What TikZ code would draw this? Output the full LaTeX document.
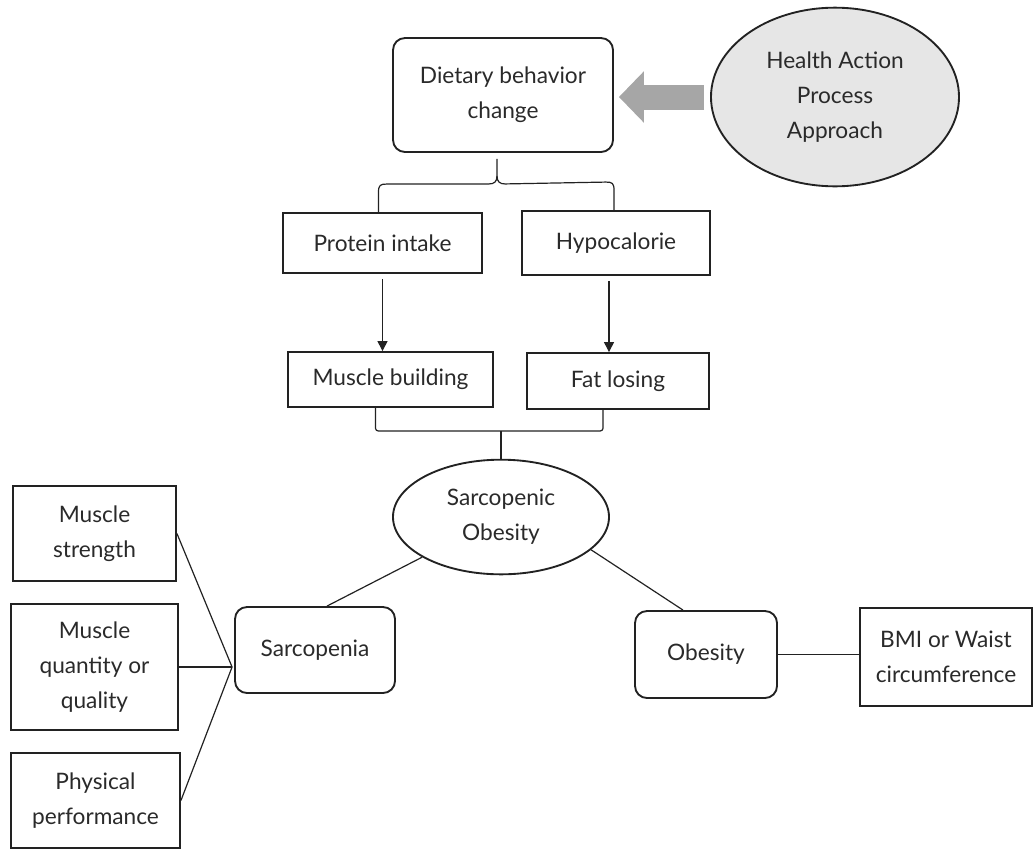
\documentclass[tikz,border=0pt]{standalone}
\usepackage{fontspec}
\setmainfont{Lato}
\usetikzlibrary{shapes.geometric,arrows.meta,calc}
\definecolor{ink}{HTML}{222222}
\definecolor{txt}{HTML}{2A2A2A}
\definecolor{arrowgray}{HTML}{A6A6A6}
\definecolor{hapafill}{HTML}{E6E6E6}
\begin{document}
\begin{tikzpicture}[x=0.75pt,y=-0.75pt,
  every node/.style={font=\fontsize{17}{26.25}\selectfont, text=txt, align=center, inner sep=0pt},
  sqbox/.style={draw=ink, line width=1.4pt, rectangle},
  rbox/.style={draw=ink, line width=1.4pt, rectangle, rounded corners=9pt},
  oval/.style={draw=ink, line width=1.4pt, ellipse},
  link/.style={draw=ink, line width=0.9pt},
  down/.style={link, -{Triangle[width=7.5pt,length=7.5pt]}},
  bigarrow/.style={draw=arrowgray, line width=18.75pt, -{Triangle[width=37.5pt,length=18.75pt]}}
]
\useasboundingbox (0,0) rectangle (1035,850);

% top
\node[rbox, minimum width=165pt, minimum height=85.5pt] (diet) at (503,95) {Dietary behavior\\change};
\node[oval, fill=hapafill, minimum width=186pt, minimum height=134pt] (hapa) at (835,97) {Health Action\\Process\\Approach};
\draw[bigarrow, shorten <=4.5pt, shorten >=3.75pt] (hapa.west) -- (diet.east |- hapa.west);

% second row
\node[sqbox, minimum width=149pt, minimum height=45pt] (prot) at (382.5,243) {Protein intake};
\node[sqbox, minimum width=141pt, minimum height=48pt] (hypo) at (616,243) {Hypocalorie};

% brace
\coordinate (btip) at ($(diet.south)+(-6,6)$);
\draw[link] ($(prot.north)+(-4,0)$) -- ++(0,-20)
  .. controls ++(0,-7) and ++(-6,0) .. ++(8,-8) -- ($(btip)+(-8,25)$)
  .. controls ++(5,0) and ++(0,6) .. ($(btip)+(0,17)$) -- (btip);
\draw[link] ($(hypo.north)+(-2,0)$) -- ++(0,-20)
  .. controls ++(0,-7) and ++(6,0) .. ++(-8,-8) -- ($(btip)+(8,25)$)
  .. controls ++(-5,0) and ++(0,6) .. ($(btip)+(0,17)$);

% third row
\node[sqbox, minimum width=153.75pt, minimum height=41.25pt] (musc) at (390.5,379.5) {Muscle building};
\node[sqbox, minimum width=136.5pt, minimum height=42pt] (fat) at (618,381) {Fat losing};

\draw[down] ($(prot.south)+(0,5)$) -- (prot.south |- musc.north);
\draw[down] ($(hypo.south)+(-7,5)$) -- ($(hypo.south |- fat.north)+(-7,0)$);

% sarcopenic obesity
\node[oval, minimum width=162pt, minimum height=86pt] (sarc) at (501,517) {Sarcopenic\\Obesity};

\coordinate (jl) at ($(musc.south)+(-15,23)$);
\coordinate (jr) at ($(fat.south)+(-15,21)$);
\draw[link, rounded corners=2pt] ($(musc.south)+(-15,0)$) -- (jl) -- (jr) -- ($(fat.south)+(-15,0)$);
\draw[link] (sarc.north) -- (sarc.north |- jl);

% lower row
\node[rbox, minimum width=120pt, minimum height=64.5pt] (sarcop) at (315,650) {Sarcopenia};
\node[rbox, minimum width=106.5pt, minimum height=65.25pt] (obes) at (706,654.5) {Obesity};
\node[sqbox, minimum width=129pt, minimum height=73.5pt] (bmi) at (946,657) {BMI or Waist\\circumference};

\node[sqbox, minimum width=122.25pt, minimum height=71.25pt] (stren) at (94.5,533.5) {Muscle\\strength};
\node[sqbox, minimum width=125.25pt, minimum height=94.5pt] (quant) at (94.5,667) {Muscle\\quantity or\\quality};
\node[sqbox, minimum width=126.75pt, minimum height=71.25pt] (phys) at (95.5,800.5) {Physical\\performance};

\draw[link] (sarc.207) -- ($(sarcop.north)+(12,0)$);
\draw[link] (sarc.340) -- ($(obes.north)+(-23,0)$);
\draw[link] (obes.east) -- (obes.east -| bmi.west);

\coordinate (conv) at ($(sarcop.west)+(-2,17)$);
\draw[link] (stren.east) -- (conv);
\draw[link] (quant.east) -- (conv);
\draw[link] (phys.east) -- (conv);
\end{tikzpicture}
\end{document}
